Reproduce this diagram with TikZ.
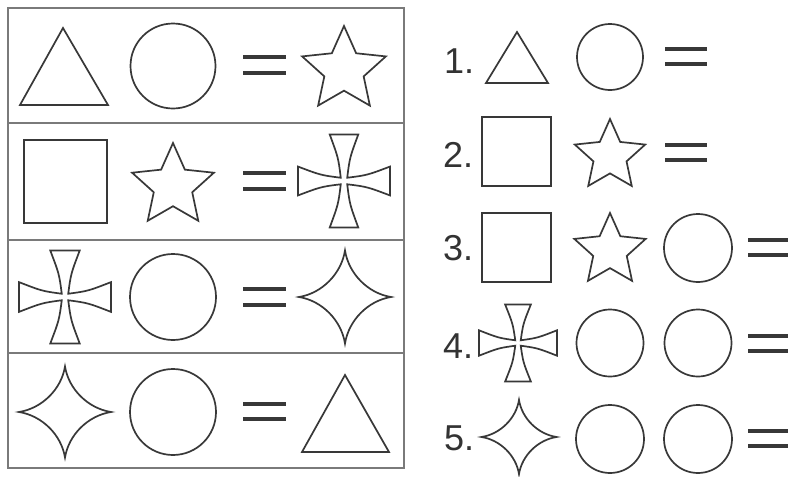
\documentclass[tikz,border=0pt]{standalone}
\usepackage{fontspec}
\setmainfont{Liberation Sans}
\definecolor{ink}{HTML}{383838}
\definecolor{frame}{HTML}{7A7A7A}
\definecolor{labelc}{HTML}{333333}
\tikzset{
  shp/.style={draw=ink, line width=1.7pt, line join=miter},
  eqline/.style={draw=ink, line width=3.2pt},
  boxline/.style={draw=frame, line width=1.8pt},
  lbl/.style={anchor=base west, inner sep=0pt, text=labelc, font=\fontsize{36}{36}\selectfont},
}
% five-pointed star: cx cy R
\newcommand\FiveStar[3]{%
  \draw[shp, shift={(#1,#2)}] (270:#3) -- (306:{0.47*#3}) -- (342:#3) -- (18:{0.47*#3})
    -- (54:#3) -- (90:{0.47*#3}) -- (126:#3) -- (162:{0.47*#3}) -- (198:#3)
    -- (234:{0.47*#3}) -- cycle;}
% four-pointed concave star: cx cy rx ry
\newcommand\Astroid[4]{%
  \draw[shp, shift={(#1,#2)}, xscale=#3, yscale=#4]
    (0,-1) .. controls (-0.08,-0.5) and (-0.5,-0.08) .. (-1,0)
    .. controls (-0.5,0.08) and (-0.08,0.5) .. (0,1)
    .. controls (0.08,0.5) and (0.5,0.08) .. (1,0)
    .. controls (0.5,-0.08) and (0.08,-0.5) .. (0,-1) -- cycle;}
% flared cross: cx cy Hx Hy W
\newcommand\FlareCross[5]{%
  \draw[shp, shift={(#1,#2)}, xscale=#3, yscale=#4]
    (-#5,-1) -- (#5,-1) .. controls ({0.4*#5},-0.5) .. (0.07,-0.07)
    .. controls (0.5,{-0.4*#5}) .. (1,-#5) -- (1,#5)
    .. controls (0.5,{0.4*#5}) .. (0.07,0.07)
    .. controls ({0.4*#5},0.5) .. (#5,1) -- (-#5,1)
    .. controls ({-0.4*#5},0.5) .. (-0.07,0.07)
    .. controls (-0.5,{0.4*#5}) .. (-1,#5) -- (-1,-#5)
    .. controls (-0.5,{-0.4*#5}) .. (-0.07,-0.07)
    .. controls ({-0.4*#5},-0.5) .. (-#5,-1) -- cycle;}
% equals sign: x1 x2 ya yb
\newcommand\EqSign[4]{%
  \draw[eqline] (#1,#3) -- (#2,#3);
  \draw[eqline] (#1,#4) -- (#2,#4);}
\begin{document}
\begin{tikzpicture}[x=1pt,y=-1pt]
  \useasboundingbox[fill=white] (0,0) rectangle (788,477);

  % ---------- left panel: frame ----------
  \draw[boxline] (8,8) rectangle (404,468);
  \draw[boxline] (8,123) -- (404,123);
  \draw[boxline] (8,240) -- (404,240);
  \draw[boxline] (8,353) -- (404,353);

  % row 1
  \draw[shp] (63,28) -- (20,105) -- (108,105) -- cycle;
  \draw[shp] (173,66) circle[radius=42.5];
  \EqSign{243}{286}{57}{73}
  \FiveStar{344}{70}{44}

  % row 2
  \draw[shp] (24,140) rectangle (107,223);
  \FiveStar{173}{186}{43}
  \EqSign{243}{286}{173}{189}
  \FlareCross{344}{181}{46}{46.5}{0.31}

  % row 3
  \FlareCross{65}{297}{46}{46.5}{0.32}
  \draw[shp] (173,297) circle[radius=43];
  \EqSign{243}{286}{289}{305}
  \Astroid{345}{297}{46}{46.5}

  % row 4
  \Astroid{65}{412}{46}{45.5}
  \draw[shp] (173,412) circle[radius=43];
  \EqSign{243}{286}{404}{419}
  \draw[shp] (345,375) -- (302,452) -- (389,452) -- cycle;

  % ---------- right panel ----------
  \node[lbl] (lab1) at (444,73) {1.};
  \draw[shp] (517,32) -- (486,83) -- (548,83) -- cycle;
  \draw[shp] (610,57) circle[radius=33];
  \EqSign{665}{707}{49}{64}

  \node[lbl] (lab2) at (443,167) {2.};
  \draw[shp] (482,117) rectangle (551,186);
  \FiveStar{610}{156}{37}
  \EqSign{665}{707}{145}{160}

  \node[lbl] (lab3) at (443,260) {3.};
  \draw[shp] (482,213) rectangle (551,282);
  \FiveStar{610}{250.5}{37.5}
  \draw[shp] (698,248) circle[radius=34];
  \EqSign{748}{790}{240}{255}

  \node[lbl] (lab4) at (443,358) {4.};
  \FlareCross{518}{343}{39}{38.5}{0.33}
  \draw[shp] (610,343) circle[radius=33.5];
  \draw[shp] (698,343) circle[radius=33.5];
  \EqSign{748}{790}{336}{351}

  \node[lbl] (lab5) at (444,450) {5.};
  \Astroid{519}{437}{37.5}{37}
  \draw[shp] (610,439) circle[radius=34];
  \draw[shp] (698,439) circle[radius=34];
  \EqSign{748}{790}{431}{446}
\end{tikzpicture}
\end{document}
